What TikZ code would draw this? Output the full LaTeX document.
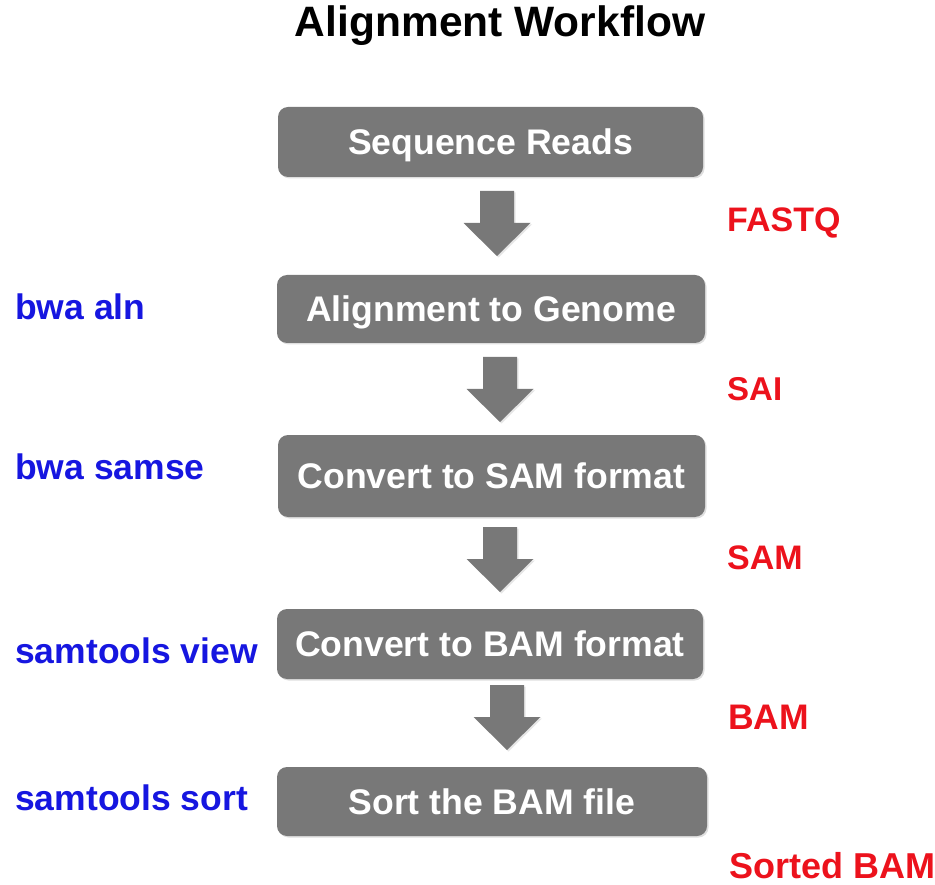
\documentclass[tikz,border=0pt]{standalone}
\usepackage{fontspec}
\setmainfont{Liberation Sans}
\usetikzlibrary{shadows}

\definecolor{boxgray}{RGB}{120,120,120}
\definecolor{toolblue}{RGB}{22,22,224}
\definecolor{filered}{RGB}{236,18,28}

\tikzset{
  stepbox/.style={rounded corners=10pt, fill=boxgray, inner sep=0pt,
    text=white, font=\bfseries\fontsize{35.6}{40}\selectfont,
    text height=25pt, text depth=0pt,
    drop shadow={shadow xshift=1.5pt, shadow yshift=-1.5pt, opacity=0.25}},
  toollabel/.style={anchor=base west, inner sep=0pt, text=toolblue,
    font=\bfseries\fontsize{35.5}{40}\selectfont},
  filelabel/.style={anchor=base west, inner sep=0pt, text=filered,
    font=\bfseries\fontsize{34}{40}\selectfont},
  downarrow/.pic={
    \fill[boxgray, drop shadow={shadow xshift=1.5pt, shadow yshift=-1.5pt, opacity=0.2}]
      (-17,0) -- (17,0) -- (17,32) -- (33.5,32) -- (0,65) -- (-33.5,32) -- (-17,32) -- cycle;
  }
}

\begin{document}
\begin{tikzpicture}[x=1pt, y=-1pt]
  \useasboundingbox (0,0) rectangle (935,885);

  % title
  \node (title) [anchor=base, inner sep=0pt, font=\bfseries\fontsize{42.5}{46}\selectfont]
    at (500,37) {Alignment Workflow};

  % workflow steps
  \node (reads) [stepbox, minimum width=425pt, minimum height=70pt] at (490.5,142) {Sequence Reads};
  \node (align) [stepbox, minimum width=428pt, minimum height=68pt] at (491,309) {Alignment to Genome};
  \node (tosam) [stepbox, minimum width=427pt, minimum height=82pt] at (491.5,476) {Convert to SAM format};
  \node (tobam) [stepbox, minimum width=426pt, minimum height=70pt] at (490,644) {Convert to BAM format};
  \node (sort)  [stepbox, minimum width=430pt, minimum height=69pt] at (492,801.5) {Sort the BAM file};

  % block arrows between the steps
  \coordinate (a1) at ([xshift=6.5pt]reads.south |- 0,191);
  \coordinate (a2) at ([xshift=9pt]align.south |- 0,357);
  \coordinate (a3) at ([xshift=8.5pt]tosam.south |- 0,527);
  \coordinate (a4) at ([xshift=17pt]tobam.south |- 0,685);
  \pic at (a1) {downarrow};
  \pic at (a2) {downarrow};
  \pic at (a3) {downarrow};
  \pic at (a4) {downarrow};

  % commands
  \node (cmd1) [toollabel] at (15,320) {bwa aln};
  \node (cmd2) [toollabel] at (15,479) {bwa samse};
  \node (cmd3) [toollabel] at (15,663) {samtools view};
  \node (cmd4) [toollabel] at (15,810) {samtools sort};

  % file formats
  \node (f1) [filelabel] at (727,232) {FASTQ};
  \node (f2) [filelabel, font=\bfseries\fontsize{33}{40}\selectfont] at (727,400) {SAI};
  \node (f3) [filelabel] at (727,569) {SAM};
  \node (f4) [filelabel, font=\bfseries\fontsize{35.5}{40}\selectfont] at (728,729) {BAM};
  \node (f5) [filelabel, font=\bfseries\fontsize{36}{40}\selectfont] at (729,878) {Sorted BAM};
\end{tikzpicture}
\end{document}
